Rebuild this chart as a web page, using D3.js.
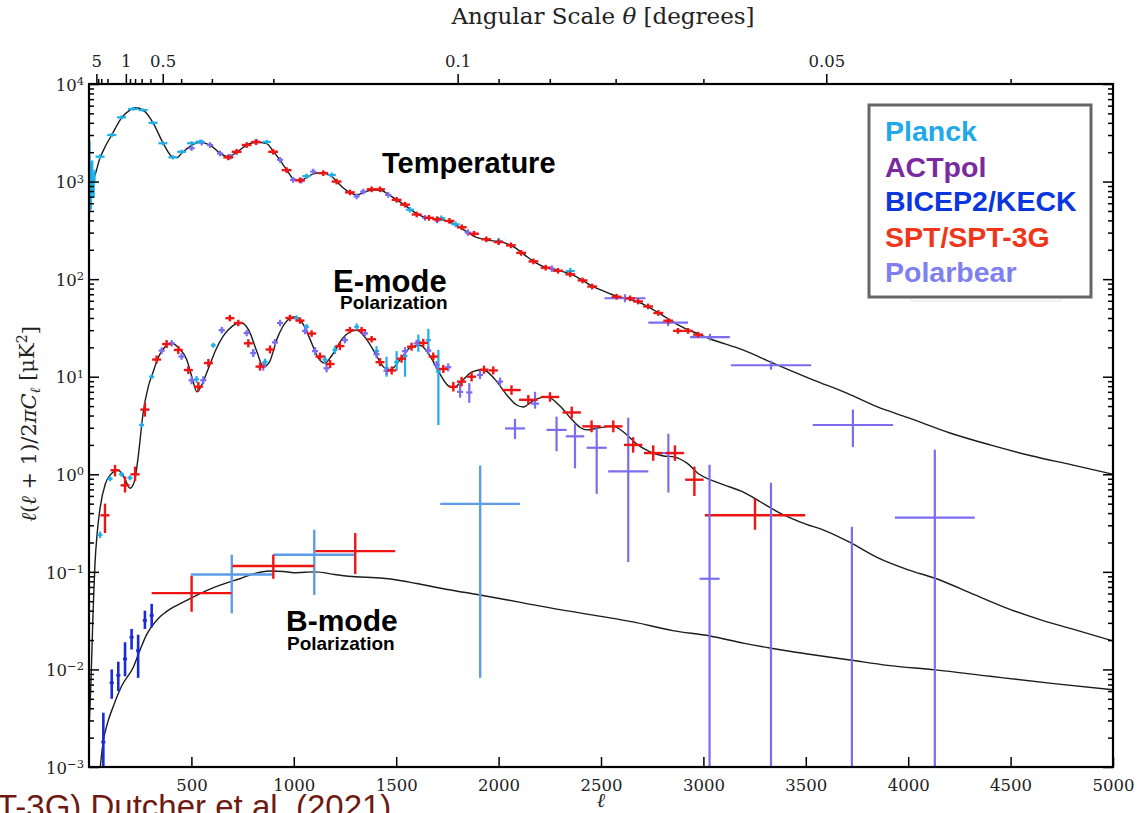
<!DOCTYPE html>
<html><head><meta charset="utf-8">
<script src="https://cdn.jsdelivr.net/npm/d3@7"></script>
<style>
html,body{margin:0;padding:0;background:#fff;overflow:hidden}
svg{display:block}
</style></head><body>
<svg id="c" width="1138" height="813"></svg>
<script>
// ---------------- DATA ----------------
// theory curves [ell, D_ell]
const theoryTT = [[2,1000],[20,1050],[54,1750],[80,2300],[111,3000],[159,4500],[200,5400],[225,5700],[264,5400],[313,4000],[361,2500],[410,1780],[430,1760],[452,1950],[501,2350],[540,2520],[591,2370],[640,1950],[680,1800],[721,2000],[770,2370],[815,2530],[868,2450],[899,2050],[933,1650],[965,1320],[997,1070],[1030,1020],[1062,1100],[1095,1200],[1130,1230],[1185,1130],[1209,1000],[1242,860],[1274,770],[1307,730],[1339,770],[1380,820],[1421,820],[1461,740],[1502,650],[1543,570],[1600,470],[1641,430],[1680,420],[1720,410],[1780,370],[1830,320],[1880,275],[1930,255],[1980,245],[2030,235],[2080,210],[2130,175],[2180,148],[2230,132],[2290,123],[2350,113],[2400,100],[2457,85],[2510,76],[2576,67],[2642,62],[2700,56],[2760,48],[2830,39],[2900,32],[2974,27.5],[3032,24.5],[3193,18.8],[3340,13.8],[3535,9.3],[3700,6.8],[3850,4.9],[4000,3.8],[4204,2.65],[4400,2.0],[4600,1.55],[4800,1.25],[5000,1.0]];
const theoryEE = [[2,0.003],[8,0.006],[14,0.015],[20,0.04],[29,0.12],[40,0.25],[54,0.45],[80,0.8],[103,0.98],[142,1.1],[175,0.9],[200,0.72],[222,0.85],[240,1.5],[264,4.2],[290,8],[312,11],[340,16],[361,19],[404,22],[440,19.5],[477,15],[505,9.5],[527,7.0],[550,8.2],[582,12],[620,19],[655,26],[700,33],[740,36],[780,30],[820,18],[851,12.6],[880,14],[920,25],[960,36],[1000,41],[1040,36],[1080,24],[1120,15.5],[1152,13.8],[1190,17],[1240,25],[1307,30],[1350,25],[1400,17],[1440,12.5],[1470,11.8],[1520,15],[1570,20],[1616,21],[1660,17],[1710,11],[1750,8.2],[1777,7.7],[1820,9],[1870,11.2],[1924,11.8],[1980,9.5],[2040,6.5],[2090,5.1],[2120,4.9],[2170,5.7],[2235,6.25],[2300,5.0],[2360,3.6],[2400,3.0],[2430,2.85],[2490,3.0],[2560,3.1],[2620,2.6],[2680,2.0],[2740,1.7],[2800,1.55],[2860,1.5],[2920,1.3],[2980,1.0],[3032,0.88],[3100,0.78],[3193,0.66],[3280,0.52],[3374,0.40],[3480,0.32],[3602,0.26],[3716,0.2],[3850,0.14],[4000,0.105],[4131,0.086],[4326,0.058],[4500,0.041],[4651,0.032],[4800,0.026],[5000,0.0196]];
const theoryBB = [[55,0.001],[69,0.0018],[90,0.0028],[119,0.0042],[160,0.0068],[217,0.0106],[250,0.016],[282,0.0229],[320,0.03],[347,0.0346],[400,0.042],[477,0.051],[550,0.061],[608,0.069],[680,0.078],[737,0.085],[800,0.095],[884,0.102],[950,0.101],[1000,0.098],[1104,0.1],[1200,0.094],[1300,0.089],[1400,0.087],[1480,0.084],[1600,0.076],[1750,0.066],[1909,0.058],[2100,0.049],[2300,0.041],[2500,0.035],[2656,0.0307],[2850,0.025],[3032,0.022],[3200,0.0185],[3330,0.0165],[3500,0.0145],[3716,0.0125],[3900,0.011],[4131,0.0099],[4400,0.0085],[4700,0.0072],[5000,0.0062]];

// data points: [ell, D, half-width in ell, lo, hi]  or [ell, D, half-width, error factor]
const planckTT = [[3,1100,0,480,2600],[5,800,0,520,1350],[7,1050,0,720,1500],[9,700,0,520,950],[11,1250,0,950,1600],[13,900,0,700,1150],[16,1300,0,1050,1650],[19,1000,0,820,1220],[23,820,0,680,980],[27,1150,0,1000,1320],
 [54,1800,22,1.06],[111,3000,22,1.05],[159,4550,22,1.05],[215,5550,24,1.04],[264,5400,22,1.04],[313,4000,22,1.04],[361,2470,22,1.05],[410,1770,22,1.05],[452,2020,22,1.05],[501,2470,22,1.05],[542,2560,22,1.05],
 [868,2550,20,1.05],[1062,1140,20,1.06],[1185,1170,20,1.06],[1567,515,20,1.07],[1720,420,20,1.07],[1790,365,20,1.07],[2000,245,20,1.08],[2350,121,22,1.08]];
const sptTT = [[680,1770],[721,2020],[770,2370],[815,2540],[899,2020],[965,1310],[1030,1030],[1144,1220],[1209,1000],[1274,775],[1380,833],[1421,833],[1502,650],[1543,580],[1600,460],[1660,425],[1700,412],[1760,395],[1820,340],[1880,292],[1940,256],[2000,240],[2060,222],[2110,186],[2170,152],[2230,131],[2290,122],[2350,112],[2410,97],[2457,84],[2576,66],[2642,63.5],[2681,59],[2730,52.5],[2780,45],[2828,37.5],[2876,29.5],[2925,29.5],[2974,27]];
const polarbearTT = [[501,2200,15,1.07],[550,2510,15,1.07],[591,2370,15,1.07],[640,1940,15,1.07],[690,1800,15,1.07],[819,2560,15,1.07],[933,1670,15,1.07],[997,1040,15,1.07],[1038,1025,15,1.07],[1095,1265,15,1.07],[1307,705,15,1.07],[1339,790,15,1.07],[1461,730,15,1.07],[1641,425,15,1.07],[1700,400,15,1.07],[1850,300,15,1.08],[2260,128,15,1.08],
 [2617,63.7,100,58,70],[2828,35.9,97,33,39],[3032,25.4,97,23.5,27.5],[3330,13.1,196,11.8,14.6],[3730,3.2,196,1.9,4.6]];

const planckEE = [[54,0.24,12,1.08],[103,0.9,12,1.06],[159,1.0,12,1.06],[200,0.92,12,1.06],[257,3.2,12,1.06],[306,10.0,12,1.05],[525,9.4,12,1.08],[607,21,12,1.06],[650,30,12,1.06],[802,17.5,12,1.08],[860,14.2,12,1.08],[1014,40,12,1.06],[1062,32.5,12,1.07],[1152,15,12,1.1],[1201,18.8,12,1.1],[1307,32.5,12,1.08],[1404,18.3,12,1.12],[1453,12.2,12,10,16],[1502,14.1,12,11.5,18.3],[1543,16.3,12,10,18.8],[1608,22.8,12,18,27],[1657,23.7,12,18.3,31],[1706,11.3,12,3.2,18.8]];
const sptEE = [[78,0.38,22,0.25,0.5],[127,1.1,22,0.95,1.25],[176,0.77,22,0.65,0.95],[225,1.0,22,0.85,1.2],[273,4.6,22,3.9,5.4],[330,15,22,1.1],[379,21.6,22,1.1],[436,18.8,22,1.1],[485,11.7,22,1.1],[534,7.9,22,1.12],[583,13.8,22,1.1],[688,39.8,22,1.08],[729,35.5,22,1.08],[778,22,22,1.1],[835,12.7,22,1.1],[884,19,22,1.1],[981,40,22,1.08],[1030,37.6,22,1.08],[1087,27.7,22,1.08],[1128,16.1,22,1.1],[1177,13.5,22,1.1],[1225,20.6,22,1.1],[1274,30,22,1.08],[1331,30,22,1.08],[1380,24.2,22,1.08],[1421,14.1,22,1.1],[1478,11.6,22,1.1],[1526,15.3,22,1.1],[1575,20.3,22,1.1],[1632,22.2,22,1.1],[1681,16.1,22,1.1],[1730,12,22,1.1],[1779,7.9,22,1.12],[1819,8.9,22,1.12],[1868,10,22,1.12],[1929,11.8,22,1.1],[1974,11.6,22,1.1],[2063,7.3,45,1.12],[2145,5.8,45,1.12],[2251,6.2,45,1.12],[2357,4.3,45,1.15],[2454,3.1,45,1.15],[2560,3.1,45,1.15],[2657,2.0,45,1.2],[2755,1.65,45,1.2],[2861,1.65,45,1.2],[2956,0.88,45,0.6,1.2],[3252,0.38,245,0.27,0.56]];
const polarbearEE = [[355,18.5,15,1.08],[404,22,15,1.08],[452,16.1,15,1.08],[501,9.2,15,1.1],[558,9.2,15,1.1],[648,30,15,1.08],[770,28,15,1.08],[802,17.5,15,1.1],[851,12.7,15,1.1],[908,22.5,15,1.08],[933,35.5,15,1.08],[1055,29.4,15,1.08],[1104,18.3,15,1.1],[1160,12.2,15,1.1],[1250,23.7,15,1.08],[1348,27.8,15,1.08],[1404,17,15,1.1],[1453,11.5,15,1.1],[1543,18.3,15,1.1],[1600,22,15,1.08],[1657,18.5,15,1.1],[1697,13.2,15,1.1],[1754,12.5,15,1.1],[1812,7.0,15,6.1,8.9],[1857,6.9,15,5.4,8.6],[1909,10.4,15,1.1],[2007,8.9,15,1.1],
 [2080,2.95,49,2.3,3.7],[2178,5.3,20,4.7,7.0],[2283,2.85,49,1.72,3.9],[2373,2.45,45,1.15,3.3],[2479,1.87,49,0.63,3.1],[2633,1.07,98,0.126,3.8],[2829,1.65,49,0.65,2.6]];

const bicepBB = [[70,0.0018,10,0.0008,0.0036],[111,0.0073,10,0.005,0.01],[143,0.0087,10,0.006,0.012],[176,0.0128,10,0.0085,0.019],[208,0.0214,10,0.016,0.026],[240,0.0156,10,0.0082,0.0227],[273,0.0318,10,0.026,0.04],[306,0.0357,10,0.027,0.047]];
const sptBB = [[501,0.0605,195,0.039,0.091],[900,0.115,200,0.085,0.15],[1300,0.163,195,0.095,0.25]];
const planckBB = [[697,0.094,200,0.0375,0.15],[1100,0.15,200,0.058,0.27],[1910,0.497,195,0.0082,1.23]];
const polarbearBB = [[3030,0.085,49,0.0001,1.25],[3330,0.0008,0,0.0001,0.82],[3725,0.0008,0,0.0001,0.29],[4130,0.36,195,0.0001,1.78]];

const xTicks = [500,1000,1500,2000,2500,3000,3500,4000,4500,5000];
const yDecades = [1e-3,1e-2,1e-1,1,10,100,1000,1e4];
const yExpLabels = ["\u22123","\u22122","\u22121","0","1","2","3","4"];
const thetaMajor = [5,1,0.5,0.1,0.05];
const thetaMajorLabels = ["5","1","0.5","0.1","0.05"];
const thetaMinor = [4,3,2,0.9,0.8,0.7,0.6,0.4,0.3,0.2,0.09,0.08,0.07,0.06,0.04];

const legendNames = ["Planck","ACTpol","BICEP2/KECK","SPT/SPT-3G","Polarbear"];
const legendColors = ["#1fa9e8","#7a2a9e","#0a36e0","#f0361a","#7f80f0"];

// ---------------- DRAW ----------------
const svg = d3.select('#c');
const x = d3.scaleLinear().domain([0,5000]).range([89,1113]);
const y = d3.scaleLog().domain([1e-3,1e4]).range([767,84]);
const serif = "'DejaVu Serif', serif";
const sans = "'Liberation Sans', Arial, sans-serif";

svg.append('defs').append('clipPath').attr('id','clip')
  .append('rect').attr('x',89).attr('y',84).attr('width',1024).attr('height',683);

const plot = svg.append('g').attr('clip-path','url(#clip)');

const line = d3.line().x(d=>x(d[0])).y(d=>y(d[1])).curve(d3.curveMonotoneX);
[theoryTT, theoryEE, theoryBB].forEach(t=>{
  plot.append('path').attr('d',line(t)).attr('fill','none').attr('stroke','#1c1c1c').attr('stroke-width',1.4);
});

function bounds(r){ return r.length>=5 ? [r[3],r[4]] : [r[1]/r[3], r[1]*r[3]]; }
function drawSet(data, color, sw, defDl, defF){
  const g = plot.append('g').attr('stroke',color).attr('stroke-width',sw).attr('fill','none');
  data.forEach(r0=>{
    let r = r0.slice();
    if (r.length===2) { r = [r[0], r[1], defDl, defF]; }
    const [lo,hi] = bounds(r);
    const cx = x(r[0]), cy = y(r[1]);
    if (r[2]>0) g.append('line').attr('x1',x(r[0]-r[2])).attr('x2',x(r[0]+r[2])).attr('y1',cy).attr('y2',cy);
    g.append('line').attr('x1',cx).attr('x2',cx).attr('y1',y(lo)).attr('y2',y(hi));
  });
}
drawSet(polarbearTT, '#7b6cf0', 2.2);
drawSet(planckTT, '#1eaee9', 2.2);
drawSet(sptTT, '#ee1414', 2.4, 24, 1.07);
drawSet(planckEE, '#1eaee9', 2.2);
drawSet(polarbearEE, '#7b6cf0', 2.2);
drawSet(sptEE, '#ee1414', 2.4);
drawSet(polarbearBB, '#7b6cf0', 2.2);
drawSet(planckBB, '#5d9de8', 2.4);
drawSet(sptBB, '#ee1414', 2.4);
drawSet(bicepBB, '#1a2bd6', 2.6);

// axes
function styleAxis(g){
  g.select('.domain').remove();
  g.selectAll('.tick line').attr('stroke','#000').attr('stroke-width',1.5);
  g.selectAll('.tick text').attr('font-family',serif).attr('font-size',16.5).attr('fill','#222');
}
svg.append('g').attr('transform','translate(0,767)')
  .call(d3.axisBottom(x).tickValues(xTicks).tickSizeInner(-10).tickSizeOuter(0).tickPadding(12).tickFormat(d3.format('d')))
  .call(styleAxis);

const yMinor = [];
yDecades.slice(0,-1).forEach(d=>{ for(let k=2;k<10;k++) yMinor.push(d*k); });

const la = svg.append('g').attr('transform','translate(89,0)')
  .call(d3.axisLeft(y).tickValues(yDecades).tickSizeInner(-10).tickSizeOuter(0).tickPadding(5).tickFormat(''))
  .call(styleAxis);
la.selectAll('.tick text').each(function(d){
  const t = d3.select(this);
  t.text(null).attr('dy','0.38em');
  t.append('tspan').text('10');
  t.append('tspan').attr('dy','-0.5em').attr('font-size',11.5).text(yExpLabels[yDecades.indexOf(d)]);
});
svg.append('g').attr('transform','translate(89,0)')
  .call(d3.axisLeft(y).tickValues(yMinor).tickSizeInner(-5).tickSizeOuter(0).tickFormat(''))
  .call(styleAxis);
svg.append('g').attr('transform','translate(1113,0)')
  .call(d3.axisRight(y).tickValues(yDecades).tickSizeInner(-10).tickSizeOuter(0).tickFormat(''))
  .call(styleAxis);
svg.append('g').attr('transform','translate(1113,0)')
  .call(d3.axisRight(y).tickValues(yMinor).tickSizeInner(-5).tickSizeOuter(0).tickFormat(''))
  .call(styleAxis);

// top angular axis: ell = 180/theta
svg.append('g').attr('transform','translate(0,84)')
  .call(d3.axisTop(x).tickValues(thetaMajor.map(t=>180/t)).tickSizeInner(10).tickSizeOuter(0).tickPadding(7)
    .tickFormat((d,i)=>thetaMajorLabels[i]))
  .call(styleAxis);
svg.append('g').attr('transform','translate(0,84)')
  .call(d3.axisTop(x).tickValues(thetaMinor.map(t=>180/t)).tickSizeInner(5).tickSizeOuter(0).tickFormat(''))
  .call(styleAxis);

// frame
svg.append('rect').attr('x',89).attr('y',84).attr('width',1024).attr('height',683)
  .attr('fill','none').attr('stroke','#000').attr('stroke-width',2.2);

// axis titles
const tt = svg.append('text').attr('x',603).attr('y',24).attr('text-anchor','middle')
  .attr('font-family',serif).attr('font-size',23).attr('fill','#222');
tt.append('tspan').text('Angular Scale ');
tt.append('tspan').attr('font-style','italic').text('\u03B8');
tt.append('tspan').text(' [degrees]');

svg.append('text').attr('x',601).attr('y',807).attr('text-anchor','middle')
  .attr('font-family',serif).attr('font-style','italic').attr('font-size',20).attr('fill','#222').text('\u2113');

const yl = svg.append('text').attr('transform','translate(36,424) rotate(-90)').attr('text-anchor','middle')
  .attr('font-family',serif).attr('font-size',21).attr('fill','#222');
yl.append('tspan').attr('font-style','italic').text('\u2113');
yl.append('tspan').text('(');
yl.append('tspan').attr('font-style','italic').text('\u2113');
yl.append('tspan').text(' + 1)/2');
yl.append('tspan').attr('font-style','italic').text('\u03C0C');
yl.append('tspan').attr('font-style','italic').attr('font-size',14).attr('dy','0.3em').text('\u2113');
yl.append('tspan').attr('dy','-0.3em').text(' [\u03BCK');
yl.append('tspan').attr('font-size',14).attr('dy','-0.5em').text('2');
yl.append('tspan').attr('dy','0.5em').text(']');

// labels on plot
function bold(xp, yp, size, txt){
  svg.append('text').attr('x',xp).attr('y',yp).attr('font-family',sans).attr('font-weight','bold')
    .attr('font-size',size).attr('fill','#000').text(txt);
}
bold(382,173,29,'Temperature');
bold(333,292,31,'E-mode');
bold(340,309,19,'Polarization');
bold(286,631,30,'B-mode');
bold(287,650,19,'Polarization');

// legend
svg.append('rect').attr('x',910).attr('y',292).attr('width',152).attr('height',9).attr('rx',3)
  .attr('fill','none').attr('stroke','#e2e2e2').attr('stroke-width',1);
svg.append('rect').attr('x',869).attr('y',105).attr('width',222).attr('height',192)
  .attr('fill','#fff').attr('stroke','#666').attr('stroke-width',3);
const lgY = [141,177,211,247,282];
legendNames.forEach((n,i)=>{
  svg.append('text').attr('x',885).attr('y',lgY[i]).attr('font-family',sans).attr('font-weight','bold')
    .attr('font-size',28.5).attr('fill',legendColors[i]).text(n);
});

// citation
svg.append('text').attr('x',-3).attr('y',818).attr('font-family',sans).attr('font-size',33)
  .attr('fill','#6e1a12').text('T-3G) Dutcher et al. (2021)');
</script></body></html>
